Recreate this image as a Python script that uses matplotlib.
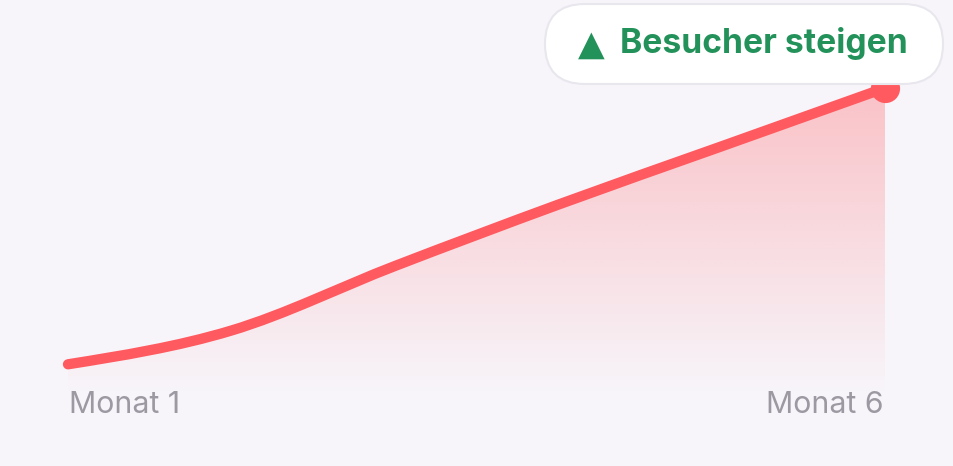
import numpy as np
import matplotlib
matplotlib.use("Agg")
import matplotlib.pyplot as plt
from matplotlib.path import Path
from matplotlib.patches import PathPatch, FancyBboxPatch
from matplotlib.transforms import IdentityTransform

# ---- data ----
months = ["Monat 1", "Monat 2", "Monat 3", "Monat 4", "Monat 5", "Monat 6"]
visitors = [10, 21, 42, 62, 81, 100]
shown_labels = ["Monat 1", "Monat 6"]
badge_arrow = "▲"
badge_text = "Besucher steigen"

BG = "#f7f5fa"
RED = "#ff5a5f"
GREEN = "#23915a"
GRAY = "#9d99a2"

W, H, DPI = 954, 466, 100
fig = plt.figure(figsize=(W / DPI, H / DPI), dpi=DPI, facecolor=BG)
ax = fig.add_axes([68 / W, (H - 395) / H, (885 - 68) / W, (395 - 88) / H])
ax.set_facecolor(BG)
ax.set_xlim(0, len(months) - 1)
ax.set_ylim(0, 100)
ax.axis("off")

x = np.arange(len(visitors), dtype=float)
y = np.asarray(visitors, dtype=float)

# monotone cubic tangents (d3 curveMonotoneX style)
h = np.diff(x)
s = np.diff(y) / h
t = np.zeros_like(y)
for i in range(1, len(y) - 1):
    s0, s1 = s[i - 1], s[i]
    p = (s0 * h[i] + s1 * h[i - 1]) / (h[i - 1] + h[i])
    t[i] = (np.sign(s0) + np.sign(s1)) * min(abs(s0), abs(s1), 0.5 * abs(p))
t[0] = (3 * s[0] - t[1]) / 2
t[-1] = (3 * s[-1] - t[-2]) / 2

verts = [(x[0], y[0])]
codes = [Path.MOVETO]
for i in range(len(x) - 1):
    d = h[i] / 3
    verts += [(x[i] + d, y[i] + d * t[i]), (x[i + 1] - d, y[i + 1] - d * t[i + 1]), (x[i + 1], y[i + 1])]
    codes += [Path.CURVE4] * 3

line_path = Path(verts, codes)
fill_path = Path(verts + [(x[-1], 0), (x[0], 0), (x[0], y[0])],
                 codes + [Path.LINETO, Path.LINETO, Path.CLOSEPOLY])

# gradient fill
n = 256
grad = np.zeros((n, 2, 4))
rgb = matplotlib.colors.to_rgb(RED)
grad[..., 0], grad[..., 1], grad[..., 2] = rgb
alpha = np.linspace(0.33, 0.0, n)
grad[..., 3] = alpha[:, None]
im = ax.imshow(grad, extent=(0, x[-1], 0, 100), origin="upper", aspect="auto",
               interpolation="bilinear", zorder=1)
clip = PathPatch(fill_path, transform=ax.transData, facecolor="none", edgecolor="none")
ax.add_patch(clip)
im.set_clip_path(clip)

# line
ln = PathPatch(line_path, facecolor="none", edgecolor=RED, lw=7.4, capstyle="round",
               joinstyle="round", zorder=3, clip_on=False)
ax.add_patch(ln)
ax.plot([x[-1]], [y[-1]], "o", color=RED, ms=21, mew=0, zorder=4, clip_on=False)

# labels
FONT = ["Inter", "DejaVu Sans"]
ax.annotate(shown_labels[0], xy=(x[0], 0), xycoords=("data", "axes fraction"),
            xytext=(1, -18 * 72 / DPI), textcoords="offset points",
            ha="left", va="baseline", fontsize=21.8, color=GRAY, family=FONT)
ax.annotate(shown_labels[1], xy=(x[-1], 0), xycoords=("data", "axes fraction"),
            xytext=(-1, -18 * 72 / DPI), textcoords="offset points",
            ha="right", va="baseline", fontsize=21.8, color=GRAY, family=FONT)

# badge
pill = FancyBboxPatch((545 + 40, H - 84 + 40), 398 - 80, 80 - 80,
                      boxstyle="round,pad=40,rounding_size=40",
                      transform=IdentityTransform(), facecolor="white",
                      edgecolor="#e9e7ee", lw=1.5, zorder=5)
fig.patches.append(pill)
pill.set_figure(fig)
fig.text(578 / W, (H - 45) / H, badge_arrow, ha="left", va="center",
         fontsize=25, color=GREEN, family=["DejaVu Sans"], zorder=6)
fig.text(908 / W, (H - 44) / H, badge_text, ha="right", va="center",
         fontsize=24.2, fontweight="bold", color=GREEN, family=FONT, zorder=6)

fig.savefig("out.png", dpi=DPI, facecolor=BG)
